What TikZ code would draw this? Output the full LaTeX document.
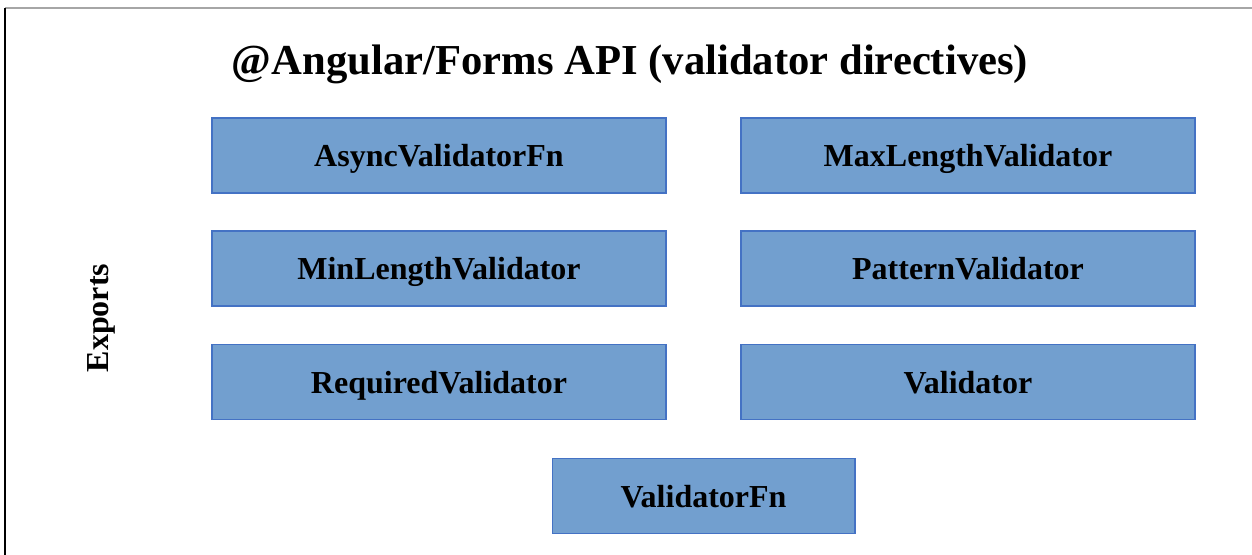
\documentclass[tikz,border=0pt]{standalone}
\usepackage{fontspec}
\setmainfont{Liberation Serif}
\usetikzlibrary{positioning}
\definecolor{boxfill}{RGB}{114,159,207}
\definecolor{boxline}{RGB}{68,114,196}
\tikzset{
  export/.style={draw=boxline,fill=boxfill,line width=1pt,minimum width=340.5pt,minimum height=56.25pt,text height=17pt,text depth=0pt,font=\bfseries\fontsize{24}{28}\selectfont},
}
\begin{document}
\begin{tikzpicture}[x=0.75pt,y=-0.75pt]
\useasboundingbox(0,0)rectangle(1252,555);
% frame
\draw[gray!70,line width=1.5pt](5,8)--(1252,8);
\draw[black,line width=1.5pt](5,8)--(5,555);
\node[font=\bfseries\fontsize{32}{38}\selectfont](title)at(630,64){@Angular/Forms API (validator directives)};
\node[rotate=90,font=\bfseries\fontsize{24}{28}\selectfont](exports)at(101,318){Exports};
% exports
\node[export](async)at(439,155.5){AsyncValidatorFn};
\node[export](maxlen)at(968,155.5){MaxLengthValidator};
\node[export](minlen)at(439,268.5){MinLengthValidator};
\node[export](pattern)at(968,268.5){PatternValidator};
\node[export](required)at(439,382){RequiredValidator};
\node[export](validator)at(968,382){Validator};
\node[export,minimum width=227pt](fn)at(703.5,496){ValidatorFn};
\end{tikzpicture}
\end{document}
